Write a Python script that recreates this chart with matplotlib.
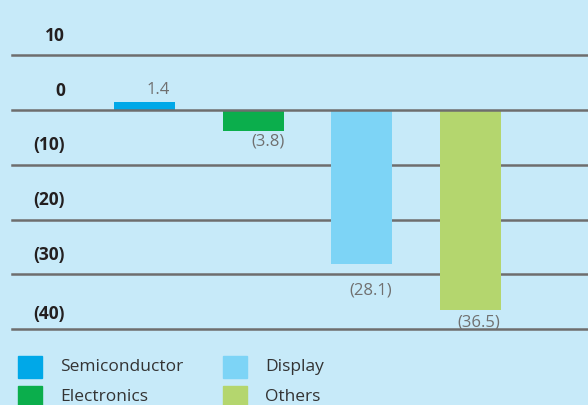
import matplotlib.pyplot as plt
from matplotlib.patches import Rectangle

# segment results
segments = ['Semiconductor', 'Electronics', 'Display', 'Others']
values = [1.4, -3.8, -28.1, -36.5]
value_labels = ['1.4', '(3.8)', '(28.1)', '(36.5)']
colors = ['#00a8e8', '#0bae4c', '#7dd4f6', '#b4d66e']

tick_values = [10, 0, -10, -20, -30, -40]
tick_labels = ['10', '0', '(10)', '(20)', '(30)', '(40)']

bg = '#c7eaf9'
plt.rcParams['font.family'] = ['Open Sans', 'DejaVu Sans']

fig = plt.figure(figsize=(5.88, 4.05), dpi=100, facecolor=bg)
ax = fig.add_axes([0, 0, 1, 1])
ax.set_facecolor(bg)

# scale: zero line at 110 px from top, ~5.48 px per unit
ppu = 5.48
ax.set_ylim(-295 / ppu, 110 / ppu)
ax.set_xlim(-144.5 / 108.7, (588 - 144.5) / 108.7)

for t in tick_values:
    ax.axhline(t, xmin=12 / 588, xmax=1, color='#6e6e6e', lw=1.8,
               zorder=3 if t == 0 else 1)

x = range(len(segments))
ax.bar(x, values, width=0.56, color=colors, zorder=2)

for t, lab in zip(tick_values, tick_labels):
    ax.annotate(lab, xy=(65 / 588, t), xycoords=('axes fraction', 'data'),
                xytext=(0, 14 if t > -40 else 11), textcoords='offset points',
                ha='right', va='center', fontsize=12.5, fontweight='bold',
                color='#231f20')

# label offsets in points (x, y)
label_offsets = [(10, 9), (11, -8), (6, -19), (6, -9)]
for i, (v, lab) in enumerate(zip(values, value_labels)):
    ax.annotate(lab, xy=(i, v), xytext=label_offsets[i],
                textcoords='offset points',
                ha='center', va='center', fontsize=12, color='#707070')

ax.axis('off')

# legend drawn in pixel coordinates of the figure
W, H = 588, 405
legend_pos = [(18, 367), (18, 397), (223, 367), (223, 397)]
for (lx, ly), k in zip(legend_pos, range(4)):
    fig.patches.append(Rectangle((lx / W, 1 - (ly + 11) / H), 24 / W, 22 / H,
                                 transform=fig.transFigure, color=colors[k]))
    fig.text((lx + 42) / W, 1 - ly / H, segments[k], ha='left', va='center',
             fontsize=12.5, color='#333333')

fig.savefig('out.png', dpi=100, facecolor=bg)
